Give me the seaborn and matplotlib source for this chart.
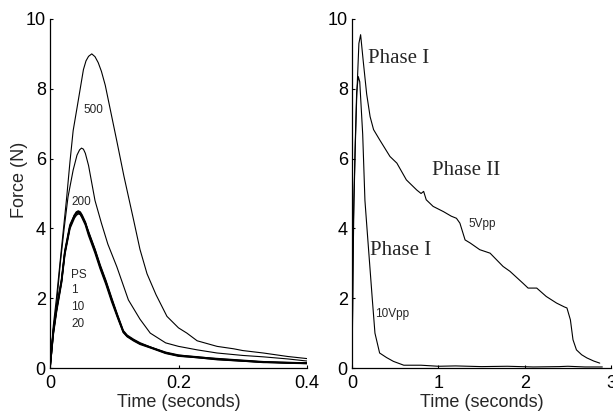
import numpy as np
import pandas as pd
import seaborn as sns
import matplotlib.pyplot as plt

# left panel: force vs time for different pulse numbers
t_fast = [0, 0.005, 0.01, 0.018, 0.023, 0.031, 0.038, 0.041, 0.044, 0.047, 0.05, 0.055,
          0.06, 0.07, 0.078, 0.087, 0.096, 0.105, 0.114, 0.12, 0.13, 0.14, 0.156, 0.18,
          0.2, 0.229, 0.26, 0.3, 0.332, 0.37, 0.4]
f_ps = [0, 1.0, 1.67, 2.5, 3.3, 4.05, 4.35, 4.45, 4.48, 4.45, 4.35, 4.15, 3.86, 3.35,
        2.9, 2.45, 1.95, 1.5, 1.05, 0.92, 0.8, 0.7, 0.6, 0.43, 0.36, 0.32, 0.26, 0.21,
        0.17, 0.16, 0.14]
f_1 = [0, 1.05, 1.7, 2.55, 3.35, 4.1, 4.38, 4.43, 4.45, 4.42, 4.3, 4.1, 3.8, 3.3,
       2.85, 2.4, 1.9, 1.45, 1.02, 0.9, 0.78, 0.68, 0.58, 0.42, 0.34, 0.3, 0.25, 0.2,
       0.16, 0.15, 0.13]
f_10 = [0, 0.95, 1.6, 2.45, 3.25, 4.0, 4.3, 4.38, 4.42, 4.4, 4.32, 4.15, 3.9, 3.4,
        2.95, 2.5, 2.0, 1.52, 1.07, 0.94, 0.82, 0.72, 0.6, 0.45, 0.37, 0.31, 0.27,
        0.22, 0.18, 0.15, 0.15]
f_20 = [0, 1.0, 1.65, 2.5, 3.3, 4.05, 4.38, 4.47, 4.5, 4.47, 4.38, 4.18, 3.88, 3.38,
        2.92, 2.47, 1.97, 1.48, 1.04, 0.91, 0.8, 0.7, 0.59, 0.44, 0.35, 0.3, 0.24,
        0.2, 0.17, 0.14, 0.13]

t_200 = [0, 0.005, 0.01, 0.016, 0.022, 0.028, 0.036, 0.042, 0.046, 0.049, 0.052, 0.055,
         0.06, 0.065, 0.07, 0.08, 0.09, 0.104, 0.122, 0.14, 0.156, 0.18, 0.2, 0.229,
         0.26, 0.3, 0.332, 0.37, 0.4]
f_200 = [0, 1.1, 1.8, 3.0, 4.0, 4.9, 5.67, 6.1, 6.25, 6.3, 6.27, 6.15, 5.8, 5.3, 4.8,
         4.15, 3.55, 2.9, 1.95, 1.4, 1.0, 0.72, 0.62, 0.52, 0.43, 0.36, 0.32, 0.26, 0.2]

t_500 = [0, 0.005, 0.01, 0.016, 0.021, 0.026, 0.031, 0.036, 0.042, 0.047, 0.052, 0.056,
         0.06, 0.065, 0.07, 0.075, 0.08, 0.086, 0.095, 0.104, 0.115, 0.13, 0.14, 0.151,
         0.165, 0.182, 0.2, 0.213, 0.229, 0.26, 0.286, 0.3, 0.332, 0.37, 0.4]
f_500 = [0, 1.2, 2.0, 3.1, 4.0, 4.9, 5.9, 6.8, 7.45, 8.0, 8.55, 8.8, 8.93, 9.0, 8.92,
         8.75, 8.5, 8.1, 7.3, 6.5, 5.5, 4.25, 3.4, 2.7, 2.1, 1.48, 1.15, 1.0, 0.78,
         0.62, 0.55, 0.5, 0.43, 0.33, 0.27]

# right panel: force vs time for two drive amplitudes
t_10v = [0, 0.008, 0.015, 0.035, 0.054, 0.073, 0.09, 0.124, 0.15, 0.178, 0.236, 0.266,
         0.32, 0.4, 0.48, 0.6, 0.8, 1.0, 1.2, 1.5, 1.8, 2.1, 2.4, 2.5, 2.7, 2.9]
f_10v = [0, 1.7, 4.05, 6.2, 7.9, 8.35, 8.2, 6.7, 4.8, 3.86, 1.95, 1.0, 0.43, 0.3,
         0.19, 0.08, 0.08, 0.05, 0.06, 0.04, 0.05, 0.03, 0.04, 0.05, 0.03, 0.03]

t_5v = [0, 0.01, 0.023, 0.04, 0.054, 0.08, 0.1, 0.13, 0.17, 0.21, 0.25, 0.32, 0.44,
        0.52, 0.63, 0.75, 0.8, 0.83, 0.86, 0.94, 1.06, 1.15, 1.21, 1.25, 1.31, 1.37,
        1.48, 1.6, 1.75, 1.83, 1.98, 2.04, 2.14, 2.25, 2.37, 2.46, 2.49, 2.53, 2.56,
        2.6, 2.66, 2.72, 2.8, 2.87]
f_5v = [0, 2.5, 4.8, 6.5, 7.7, 9.3, 9.55, 8.8, 7.85, 7.2, 6.83, 6.54, 6.06, 5.87,
        5.39, 5.1, 5.0, 5.06, 4.82, 4.63, 4.48, 4.35, 4.29, 4.15, 3.67, 3.58, 3.39,
        3.29, 2.91, 2.77, 2.43, 2.29, 2.29, 2.05, 1.86, 1.75, 1.72, 1.38, 0.81, 0.52,
        0.38, 0.29, 0.2, 0.14]

sns.set_style("ticks")
plt.rcParams['font.family'] = ['Liberation Sans', 'DejaVu Sans']

fig = plt.figure(figsize=(6.13, 4.19), dpi=100)
ax1 = fig.add_axes([0.0816, 0.1217, 0.4192, 0.833])
ax2 = fig.add_axes([0.5742, 0.1217, 0.4225, 0.833])

# thick bundle of low pulse counts
for f in [f_ps, f_1, f_10, f_20]:
    sns.lineplot(x=t_fast, y=f, ax=ax1, color="black", lw=1.1, sort=False, estimator=None)
sns.lineplot(x=t_200, y=f_200, ax=ax1, color="black", lw=0.8, sort=False, estimator=None)
sns.lineplot(x=t_500, y=f_500, ax=ax1, color="black", lw=0.8, sort=False, estimator=None)

sns.lineplot(x=t_10v, y=f_10v, ax=ax2, color="black", lw=0.8, sort=False, estimator=None)
sns.lineplot(x=t_5v, y=f_5v, ax=ax2, color="black", lw=0.8, sort=False, estimator=None)

ax1.set_xlim(0, 0.4)
ax1.set_xticks([0, 0.2, 0.4])
ax1.set_xticklabels(["0", "0.2", "0.4"])
ax2.set_xlim(0, 3)
ax2.set_xticks([0, 1, 2, 3])
for ax in [ax1, ax2]:
    ax.set_ylim(0, 10)
    ax.set_yticks([0, 2, 4, 6, 8, 10])
    ax.tick_params(direction="in", length=2.5, width=0.8, labelsize=13, colors="black")
    ax.tick_params(axis="x", pad=5)
    ax.tick_params(axis="y", pad=3)
    for s in ["left", "bottom"]:
        ax.spines[s].set_linewidth(0.9)
        ax.spines[s].set_color("black")
    sns.despine(ax=ax)
    ax.set_xlabel("Time (seconds)", fontsize=13)
    ax.xaxis.set_label_coords(0.5, -0.075)

ax1.set_ylabel("Force (N)", fontsize=13)
ax1.yaxis.set_label_coords(-0.085, 0.54)
ax2.set_ylabel("")

small = dict(fontsize=8.5, ha="left", va="baseline")
ax1.text(0.0514, 7.31, "500", **small)
ax1.text(0.034, 4.67, "200", **small)
ax1.text(0.033, 2.58, "PS", **small)
ax1.text(0.033, 2.15, "1", **small)
ax1.text(0.033, 1.66, "10", **small)
ax1.text(0.033, 1.17, "20", **small)

serif = dict(fontsize=15, ha="left", va="baseline", family=["Liberation Serif", "DejaVu Serif"])
ax2.text(0.185, 8.74, "Phase I", **serif)
ax2.text(0.927, 5.53, "Phase II", **serif)
ax2.text(0.208, 3.24, "Phase I", **serif)
ax2.text(1.344, 4.04, "5Vpp", **small)
ax2.text(0.266, 1.46, "10Vpp", **small)

fig.savefig("out.png", dpi=100)
